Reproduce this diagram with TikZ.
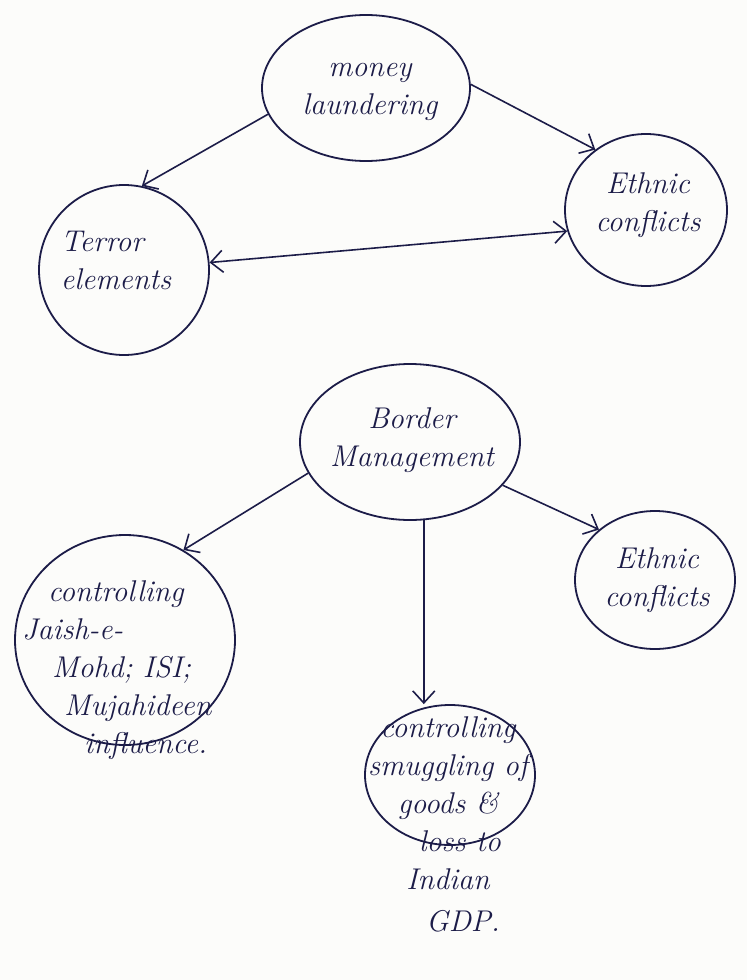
\documentclass[tikz,border=0pt]{standalone}
\usetikzlibrary{shapes.geometric,arrows.meta}
\definecolor{ink}{HTML}{1C1C48}
\definecolor{paper}{HTML}{FCFCFA}
\begin{document}
\begin{tikzpicture}[x=1pt,y=-1pt,
  bubble/.style={draw=ink,line width=1.8pt,ellipse,inner sep=0pt},
  hand/.style={text=ink,font=\fontsize{30}{38}\selectfont\itshape,inner sep=0pt},
  link/.style={draw=ink,line width=1.6pt,-{Straight Barb[length=12pt,width=22pt]}},
  twoway/.style={draw=ink,line width=1.6pt,{Straight Barb[length=12pt,width=22pt]}-{Straight Barb[length=12pt,width=22pt]}}]
\fill[paper] (0,0) rectangle (747,980);
\useasboundingbox (0,0) rectangle (747,980);

% ---- first cluster ----
\node[bubble,minimum width=208pt,minimum height=146pt] (money)  at (366,88)  {};
\node[bubble,minimum width=170pt,minimum height=170pt] (terror) at (124,270) {};
\node[bubble,minimum width=162pt,minimum height=152pt] (ethnicA) at (646,210) {};

\node[hand,align=center] (moneytxt)  at (370,92)  {money\\laundering};
\node[hand,align=left]   (terrortxt) at (116,260) {Terror\\elements};
\node[hand,align=center] (ethnicAtxt) at (648,205) {Ethnic\\conflicts};

\draw[link]   (money.195) -- (terror.78);
\draw[link]   (money.2)   -- (ethnicA.130);
\draw[twoway] (terror.5)  -- (ethnicA.195);

% ---- second cluster ----
\node[bubble,minimum width=220pt,minimum height=156pt] (border) at (410,442) {};
\node[bubble,minimum width=220pt,minimum height=210pt] (jaish)  at (125,640) {};
\node[bubble,minimum width=160pt,minimum height=138pt] (ethnicB) at (655,580) {};
\node[bubble,minimum width=170pt,minimum height=140pt] (smuggle) at (450,775) {};

\node[hand,align=center] (bordertxt)  at (412,440) {Border\\Management};
\node[hand,align=center] (ethnicBtxt) at (657,580) {Ethnic\\conflicts};
\node[hand,align=left,anchor=north west] (jaishtxt) at (22,580)
  {\hspace*{26pt}controlling\\Jaish-e-\\\hspace*{30pt}Mohd; ISI;\\\hspace*{42pt}Mujahideen\\\hspace*{62pt}influence.};
\node[hand,align=center,anchor=north] (smuggletxt) at (448,716)
  {controlling\\smuggling of\\goods \&\\\hspace*{24pt}loss to\\Indian\\[4pt]\hspace*{30pt}GDP.};

\draw[link] (border.197) -- (jaish.57);
\draw[link] (border.335) -- (ethnicB.138);
\draw[link] (border.280) -- (border.280 |- smuggle.north);
\end{tikzpicture}
\end{document}
